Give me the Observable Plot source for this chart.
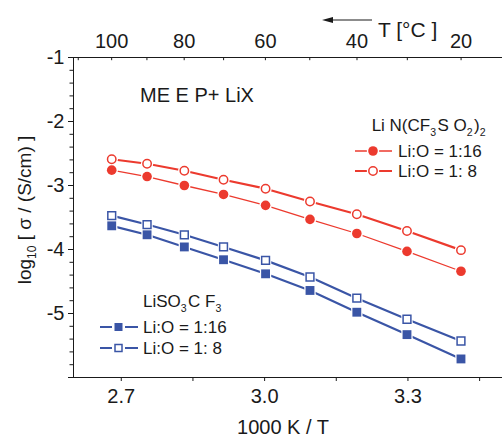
<!DOCTYPE html>
<html>
<head>
<meta charset="utf-8">
<script src="https://cdn.jsdelivr.net/npm/d3@7"></script>
<script src="https://cdn.jsdelivr.net/npm/@observablehq/plot@0.6"></script>
<style>
  body { margin: 0; background: #fff; }
  #chart svg { font-family: "Liberation Sans", Arial, sans-serif; }
</style>
</head>
<body>
<div id="chart"></div>
<script>
// ---- data ----
// measurement temperatures (°C) and the corresponding 1000 K / T values
const tempsC = [100, 90, 80, 70, 60, 50, 40, 30, 20];
const invT = [2.680, 2.754, 2.832, 2.914, 3.002, 3.095, 3.193, 3.298, 3.411];
// log10 sigma / (S/cm)
const tfsiLiO16 = [-2.76, -2.86, -3.00, -3.14, -3.31, -3.53, -3.75, -4.03, -4.34];
const tfsiLiO8  = [-2.59, -2.66, -2.77, -2.91, -3.05, -3.25, -3.45, -3.71, -4.01];
const triflLiO16 = [-3.63, -3.77, -3.96, -4.16, -4.38, -4.64, -4.98, -5.33, -5.71];
const triflLiO8  = [-3.47, -3.61, -3.77, -3.96, -4.17, -4.43, -4.76, -5.09, -5.43];
// axes
const xTicks = [2.7, 2.85, 3.0, 3.15, 3.3, 3.45];
const xTickLabels = [2.7, 3.0, 3.3];
const yMajor = [-6, -5, -4, -3, -2, -1];
const yTickLabels = [-5, -4, -3, -2, -1];
const yMinor = d3.range(-6, -0.99, 0.2).map(v => +v.toFixed(1));
const topTicksC = [110, 100, 90, 80, 70, 60, 50, 40, 30, 20];
const topLabelsC = [100, 80, 60, 40, 20];

const red = "#ec3a2e";
const blue = "#3a55a6";
const ink = "#1a1a1a";

const rows = (ys) => invT.map((x, i) => ({x, y: ys[i], t: tempsC[i]}));
const s16r = rows(tfsiLiO16), s8r = rows(tfsiLiO8), s16b = rows(triflLiO16), s8b = rows(triflLiO8);
const cToX = c => 1000 / (c + 273.15);
const near = (arr, d) => arr.some(v => Math.abs(v - d) < 1e-6);

const plot = Plot.plot({
  width: 502,
  height: 438,
  marginLeft: 73,
  marginRight: 0,
  marginTop: 57,
  marginBottom: 61,
  x: {domain: [2.6, 3.5], range: [73, 503]},
  y: {domain: [-6, -1]},
  style: {fontFamily: "'Liberation Sans', Arial, sans-serif", fontSize: "20px", color: ink, background: "white"},
  marks: [
    // frame lines
    Plot.ruleY([-1, -6], {stroke: ink, strokeWidth: 1}),
    Plot.ruleX([2.6], {stroke: ink, strokeWidth: 1}),
    // bottom axis
    Plot.axisX({ticks: xTicks, tickSize: 4, tickPadding: 7, label: null,
      tickFormat: d => near(xTickLabels, d) ? d.toFixed(1) : ""}),
    // top axis (temperature)
    Plot.axisX({anchor: "top", ticks: topLabelsC.map(cToX), tickSize: 0, tickPadding: 10, label: null,
      tickFormat: d => String(Math.round(1000 / d - 273.15))}),
    Plot.ruleX(topTicksC, {x: cToX, y1: -1, y2: -1.05, stroke: ink}),
    // left axis
    Plot.axisY({ticks: yMinor, tickSize: 3.5, tickFormat: () => "", label: null}),
    Plot.axisY({ticks: yMajor, tickSize: 5, tickPadding: 4, label: null,
      tickFormat: d => near(yTickLabels, d) ? String(d) : ""}),
    // lines
    Plot.line(s16r, {x: "x", y: "y", stroke: red, strokeWidth: 1.3}),
    Plot.line(s8r, {x: "x", y: "y", stroke: red, strokeWidth: 2.2}),
    Plot.line(s16b, {x: "x", y: "y", stroke: blue, strokeWidth: 2.2}),
    Plot.line(s8b, {x: "x", y: "y", stroke: blue, strokeWidth: 2.2}),
    // white halos
    Plot.dot([...s16r, ...s8r], {x: "x", y: "y", r: 6.2, fill: "white"}),
    Plot.dot([...s16b, ...s8b], {x: "x", y: "y", r: 6.4, symbol: "square", fill: "white"}),
    // markers
    Plot.dot(s16r, {x: "x", y: "y", r: 4.8, fill: red}),
    Plot.dot(s8r, {x: "x", y: "y", r: 4.2, fill: "white", stroke: red, strokeWidth: 1.5}),
    Plot.dot(s16b, {x: "x", y: "y", r: 5.0, symbol: "square", fill: blue}),
    Plot.dot(s8b, {x: "x", y: "y", r: 4.4, symbol: "square", fill: "white", stroke: blue, strokeWidth: 1.5})
  ]
});
document.getElementById("chart").appendChild(plot);

// ---- annotations ----
const svg = d3.select(plot);
const font = "'Liberation Sans', Arial, sans-serif";
const g = svg.append("g").attr("font-family", font).attr("fill", ink).attr("text-anchor", "start");

function richText(x, y, parts, size, anchor) {
  const t = g.append("text").attr("x", x).attr("y", y).attr("font-size", size)
    .attr("text-anchor", anchor || "start");
  parts.forEach(p => {
    if (typeof p === "string") t.append("tspan").text(p);
    else {
      t.append("tspan").attr("font-size", size * 0.62).attr("dy", p.dy).text(p.t);
      t.append("tspan").attr("dy", -p.dy).text("\u200A");
    }
  });
  return t;
}

// x-axis title
g.append("text").attr("x", 283).attr("y", 434).attr("text-anchor", "middle")
  .attr("font-size", 20).text("1000 K / T");

// y-axis title (rotated)
const yl = g.append("text").attr("transform", "translate(31,210) rotate(-90)")
  .attr("text-anchor", "middle").attr("font-size", 19);
yl.append("tspan").text("log");
yl.append("tspan").attr("font-size", 12).attr("dy", 5).text("10");
yl.append("tspan").attr("dy", -5).text(" [ σ / (S/cm) ]");

// top label with arrow
g.append("text").attr("x", 378).attr("y", 37).attr("font-size", 21).attr("text-anchor", "start").text("T [°C ]");
svg.append("line").attr("x1", 330).attr("x2", 372).attr("y1", 20).attr("y2", 20)
  .attr("stroke", ink).attr("stroke-width", 1.2);
svg.append("path").attr("d", "M322,20 L333,17 L333,23 Z").attr("fill", ink);

// chart title
g.append("text").attr("x", 140).attr("y", 102).attr("font-size", 20).attr("text-anchor", "start").text("ME E P+ LiX");

// LiN(CF3SO2)2 legend
richText(487, 131, ["Li N(CF", {t: "3", dy: 5}, "S O", {t: "2", dy: 5}, ")", {t: "2", dy: 5}], 17, "end");
const legR = [{y: 151, fill: red, stroke: red, r: 4.8, sw: 1.2, lw: 1.4},
              {y: 171, fill: "white", stroke: red, r: 4.2, sw: 1.5, lw: 2.2}];
const legRLabels = ["Li:O = 1:16", "Li:O = 1: 8"];
legR.forEach((d, i) => {
  svg.append("line").attr("x1", 355).attr("x2", 392).attr("y1", d.y).attr("y2", d.y)
    .attr("stroke", red).attr("stroke-width", d.lw);
  svg.append("circle").attr("cx", 373).attr("cy", d.y).attr("r", 6.2).attr("fill", "white");
  svg.append("circle").attr("cx", 373).attr("cy", d.y).attr("r", d.r).attr("fill", d.fill)
    .attr("stroke", i ? d.stroke : "none").attr("stroke-width", d.sw);
  g.append("text").attr("x", 398).attr("y", d.y + 6).attr("font-size", 17).attr("text-anchor", "start").text(legRLabels[i]);
});

// LiSO3CF3 legend
richText(143, 307, ["LiSO", {t: "3", dy: 5}, "C F", {t: "3", dy: 5}], 17, "start");
const legBLabels = ["Li:O = 1:16", "Li:O = 1: 8"];
[327, 348].forEach((y, i) => {
  svg.append("line").attr("x1", 100).attr("x2", 138).attr("y1", y).attr("y2", y)
    .attr("stroke", blue).attr("stroke-width", 2.2);
  svg.append("rect").attr("x", 112).attr("y", y - 6.5).attr("width", 13).attr("height", 13).attr("fill", "white");
  if (i === 0) svg.append("rect").attr("x", 114.5).attr("y", y - 4).attr("width", 8).attr("height", 8).attr("fill", blue);
  else svg.append("rect").attr("x", 115).attr("y", y - 3.5).attr("width", 7).attr("height", 7)
    .attr("fill", "white").attr("stroke", blue).attr("stroke-width", 1.5);
  g.append("text").attr("x", 143).attr("y", y + 6).attr("font-size", 17).attr("text-anchor", "start").text(legBLabels[i]);
});
</script>
</body>
</html>
